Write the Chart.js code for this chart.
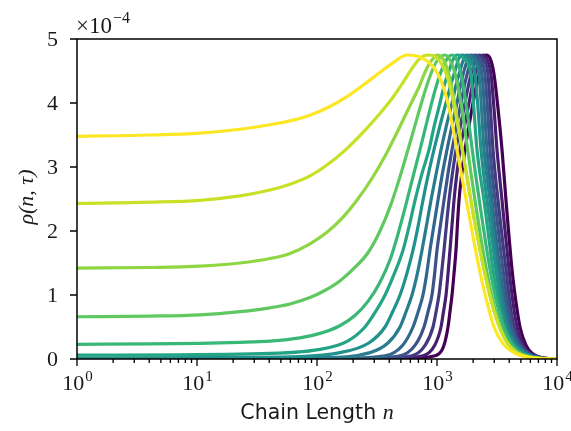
<!DOCTYPE html>
<html>
<head>
<meta charset="utf-8">
<script src="https://cdn.jsdelivr.net/npm/chart.js@4.4.1/dist/chart.umd.min.js"></script>
<style>
  html, body { margin: 0; padding: 0; background: #fff; }
  canvas { display: block; }
</style>
</head>
<body>
<canvas id="chart" width="571" height="431"></canvas>
<script>
// Axis ticks
const chainLengthTicks = [1, 10, 100, 1000, 10000];
const rhoTicks = [0, 1, 2, 3, 4, 5];
const rhoExponent = -4; // rho values below are in units of 1e-4

// Curves, one per time step, [chain length n, rho]; yellow (first) to purple (last)
const curve0 = [[1, 3.48], [4.06, 3.50], [10.6, 3.53], [22.8, 3.59], [40.6, 3.66], [59.6, 3.72], [87.4, 3.81], [123.5, 3.93], [178, 4.10], [251, 4.30], [335, 4.48], [438, 4.64], [562, 4.75], [722, 4.72], [874, 4.62], [1000, 4.48], [1144, 4.22], [1283, 3.85], [1440, 3.35], [1585, 2.92], [1745, 2.50], [1957, 2.00], [2239, 1.43], [2561, 0.95], [2985, 0.50], [3548, 0.24], [4467, 0.09], [5623, 0.03], [7217, 0.008], [10000, 0]];
const curve1 = [[1, 2.43], [4.06, 2.45], [10.6, 2.48], [22.8, 2.55], [40.6, 2.64], [59.6, 2.73], [87.4, 2.86], [121, 3.03], [171, 3.26], [242, 3.54], [329, 3.82], [422, 4.07], [521, 4.32], [619, 4.54], [708, 4.68], [779, 4.74], [858, 4.75], [981, 4.72], [1101, 4.60], [1212, 4.42], [1334, 4.12], [1440, 3.80], [1585, 3.38], [1745, 2.93], [1920, 2.47], [2154, 1.95], [2417, 1.47], [2765, 1.0], [3162, 0.60], [3758, 0.28], [4642, 0.10], [5957, 0.03], [7645, 0.008], [10000, 0]];
const curve2 = [[1, 1.42], [4.06, 1.43], [10.6, 1.45], [22.8, 1.50], [40.6, 1.57], [59.6, 1.65], [87.4, 1.80], [121, 1.98], [162, 2.20], [215, 2.48], [287, 2.82], [376, 3.20], [473, 3.57], [585, 3.93], [708, 4.25], [794, 4.48], [874, 4.63], [944, 4.71], [1000, 4.75], [1101, 4.71], [1212, 4.55], [1334, 4.22], [1468, 3.78], [1616, 3.30], [1778, 2.84], [1957, 2.38], [2196, 1.88], [2464, 1.40], [2818, 0.93], [3224, 0.57], [3758, 0.29], [4467, 0.12], [5623, 0.035], [7217, 0.008], [10000, 0]];
const curve3 = [[1, 0.66], [4.06, 0.67], [10.6, 0.69], [22.8, 0.74], [40.6, 0.80], [59.6, 0.86], [87.4, 0.96], [116, 1.07], [155, 1.22], [207, 1.43], [266, 1.66], [335, 2.0], [414, 2.42], [492, 2.85], [573, 3.27], [656, 3.65], [736, 3.98], [825, 4.28], [908, 4.50], [1000, 4.66], [1080, 4.73], [1166, 4.75], [1259, 4.70], [1386, 4.52], [1525, 4.18], [1647, 3.80], [1778, 3.35], [1920, 2.90], [2113, 2.38], [2326, 1.88], [2610, 1.35], [2929, 0.90], [3350, 0.52], [3905, 0.25], [4642, 0.10], [5732, 0.03], [7499, 0.006], [10000, 0]];
const curve4 = [[1, 0.23], [4.06, 0.235], [10.6, 0.245], [22.8, 0.26], [40.6, 0.28], [72.2, 0.33], [106, 0.40], [155, 0.52], [207, 0.68], [266, 0.90], [335, 1.20], [406, 1.55], [473, 1.95], [552, 2.42], [631, 2.85], [722, 3.27], [810, 3.65], [908, 4.02], [1019, 4.35], [1122, 4.57], [1235, 4.71], [1334, 4.75], [1440, 4.70], [1555, 4.52], [1679, 4.20], [1813, 3.78], [1957, 3.30], [2113, 2.84], [2326, 2.30], [2561, 1.78], [2873, 1.23], [3224, 0.80], [3687, 0.44], [4299, 0.20], [5109, 0.075], [6432, 0.02], [8254, 0.004], [10000, 0]];
const curve5 = [[1, 0.06], [28, 0.08], [106, 0.15], [180, 0.28], [251, 0.5], [310, 0.75], [369, 1.0], [440, 1.33], [521, 1.7], [590, 2.1], [656, 2.48], [750, 2.9], [858, 3.27], [950, 3.65], [1059, 4.0], [1150, 4.28], [1259, 4.5], [1360, 4.68], [1468, 4.75], [1700, 4.68], [1920, 4.45], [2030, 3.90], [2154, 3.27], [2464, 2.48], [2929, 1.40], [3250, 0.88], [3617, 0.50], [4300, 0.22], [5109, 0.09], [7217, 0.01], [10000, 0]];
const curve6 = [[1, 0.015], [49, 0.03], [155, 0.1], [270, 0.25], [369, 0.5], [430, 0.75], [492, 1.0], [560, 1.33], [631, 1.7], [700, 2.1], [764, 2.48], [850, 2.9], [944, 3.27], [1060, 3.65], [1189, 4.0], [1300, 4.28], [1413, 4.5], [1510, 4.68], [1616, 4.75], [1850, 4.68], [2073, 4.45], [2200, 3.90], [2326, 3.27], [2610, 2.48], [3102, 1.40], [3400, 0.88], [3758, 0.50], [4450, 0.22], [5309, 0.09], [7356, 0.01], [10000, 0]];
const curve7 = [[1, 0.004], [106, 0.02], [277, 0.1], [390, 0.25], [492, 0.5], [555, 0.75], [619, 1.0], [685, 1.33], [750, 1.7], [820, 2.1], [891, 2.48], [985, 2.9], [1080, 3.27], [1200, 3.65], [1334, 4.0], [1440, 4.28], [1555, 4.5], [1665, 4.68], [1778, 4.75], [2000, 4.68], [2239, 4.45], [2350, 3.90], [2464, 3.27], [2765, 2.48], [3224, 1.40], [3550, 0.88], [3905, 0.50], [4600, 0.22], [5412, 0.09], [7499, 0.01], [10000, 0]];
const curve8 = [[1, 0.001], [150, 0.01], [369, 0.05], [520, 0.22], [631, 0.5], [700, 0.75], [764, 1.0], [820, 1.33], [874, 1.7], [945, 2.1], [1019, 2.48], [1110, 2.9], [1212, 3.27], [1335, 3.65], [1468, 4.0], [1570, 4.28], [1679, 4.5], [1800, 4.68], [1920, 4.75], [2150, 4.68], [2371, 4.45], [2490, 3.90], [2610, 3.27], [2873, 2.48], [3350, 1.40], [3700, 0.88], [4058, 0.50], [4750, 0.22], [5623, 0.09], [7645, 0.01], [10000, 0]];
const curve9 = [[1, 0], [200, 0.005], [492, 0.05], [660, 0.22], [779, 0.5], [845, 0.75], [908, 1.0], [955, 1.33], [1000, 1.7], [1070, 2.1], [1144, 2.48], [1235, 2.9], [1334, 3.27], [1455, 3.65], [1585, 4.0], [1695, 4.28], [1813, 4.5], [1940, 4.68], [2073, 4.75], [2300, 4.68], [2512, 4.45], [2640, 3.90], [2765, 3.27], [3043, 2.48], [3548, 1.40], [3880, 0.88], [4217, 0.50], [4900, 0.22], [5732, 0.09], [7645, 0.01], [10000, 0]];
const curve10 = [[1, 0], [300, 0.004], [619, 0.05], [800, 0.22], [926, 0.5], [985, 0.75], [1039, 1.0], [1090, 1.33], [1144, 1.7], [1200, 2.1], [1259, 2.48], [1345, 2.9], [1440, 3.27], [1570, 3.65], [1711, 4.0], [1830, 4.28], [1957, 4.5], [2095, 4.68], [2239, 4.75], [2450, 4.68], [2661, 4.45], [2790, 3.90], [2929, 3.27], [3224, 2.48], [3758, 1.40], [4050, 0.88], [4382, 0.50], [5050, 0.22], [5843, 0.09], [7793, 0.01], [10000, 0]];
const curve11 = [[1, 0], [400, 0.004], [764, 0.05], [960, 0.22], [1080, 0.5], [1135, 0.75], [1189, 1.0], [1235, 1.33], [1283, 1.7], [1335, 2.1], [1386, 2.48], [1465, 2.9], [1555, 3.27], [1700, 3.65], [1848, 4.0], [1975, 4.28], [2113, 4.5], [2260, 4.68], [2417, 4.75], [2620, 4.68], [2818, 4.45], [2990, 3.90], [3162, 3.27], [3481, 2.48], [3981, 1.40], [4300, 0.88], [4642, 0.50], [5250, 0.22], [5957, 0.09], [7943, 0.01], [10000, 0]];
const curve12 = [[1, 0], [500, 0.004], [962, 0.05], [1101, 0.14], [1170, 0.28], [1235, 0.5], [1285, 0.75], [1334, 1.0], [1385, 1.33], [1440, 1.7], [1480, 2.1], [1525, 2.48], [1610, 2.9], [1711, 3.27], [1850, 3.65], [1995, 4.0], [2135, 4.28], [2282, 4.5], [2420, 4.68], [2561, 4.75], [2765, 4.70], [2985, 4.45], [3230, 3.90], [3481, 3.27], [3758, 2.48], [4217, 1.40], [4560, 0.88], [4917, 0.50], [5500, 0.22], [6190, 0.09], [8097, 0.01], [10000, 0]];

const curves = [curve0, curve1, curve2, curve3, curve4, curve5, curve6,
                curve7, curve8, curve9, curve10, curve11, curve12];

// viridis, yellow -> purple
const curveColors = ['#fde725', '#c8e026', '#90d643', '#5fc860', '#39b777', '#22a485', '#21918c',
                     '#287c8e', '#31678d', '#3b528b', '#433981', '#471e6f', '#440154'];

const SERIF = '"Liberation Serif", "DejaVu Serif", serif';
const SANS = '"DejaVu Sans", sans-serif';
const TEXT = '#1a1a1a';

// "base^exp" helper
function drawPower(ctx, base, exp, cx, baseline, align, size) {
    const small = Math.round(size * 0.7);
    ctx.font = size + 'px ' + SERIF;
    const wb = ctx.measureText(base).width;
    ctx.font = small + 'px ' + SERIF;
    const we = ctx.measureText(exp).width;
    const x0 = align === 'center' ? cx - (wb + we) / 2 : cx;
    ctx.textAlign = 'left';
    ctx.textBaseline = 'alphabetic';
    ctx.font = size + 'px ' + SERIF;
    ctx.fillText(base, x0, baseline);
    ctx.font = small + 'px ' + SERIF;
    ctx.fillText(exp, x0 + wb + 1, baseline - Math.round(size * 0.42));
}

// frame, ticks and labels in matplotlib style
const axisDecor = {
    id: 'axisDecor',
    afterDraw(chart) {
        const { ctx, chartArea: a, scales: { x, y } } = chart;
        ctx.save();
        ctx.strokeStyle = '#000';
        ctx.fillStyle = TEXT;
        ctx.lineWidth = 1.5;
        ctx.strokeRect(a.left, a.top, a.right - a.left, a.bottom - a.top);

        ctx.lineWidth = 1.3;
        ctx.beginPath();
        rhoTicks.forEach(v => {
            const py = y.getPixelForValue(v);
            ctx.moveTo(a.left - 7, py);
            ctx.lineTo(a.left, py);
        });
        chainLengthTicks.forEach((n, i) => {
            const px = x.getPixelForValue(n);
            ctx.moveTo(px, a.bottom);
            ctx.lineTo(px, a.bottom + 7);
            if (i < chainLengthTicks.length - 1) {
                for (let m = 2; m <= 9; m++) {
                    const mx = x.getPixelForValue(n * m);
                    ctx.moveTo(mx, a.bottom);
                    ctx.lineTo(mx, a.bottom + 4);
                }
            }
        });
        ctx.stroke();

        ctx.font = '22px ' + SERIF;
        ctx.textAlign = 'right';
        ctx.textBaseline = 'middle';
        rhoTicks.forEach(v => ctx.fillText(String(v), a.left - 19, y.getPixelForValue(v) + 1));

        chainLengthTicks.forEach(n => {
            drawPower(ctx, '10', String(Math.round(Math.log10(n))), x.getPixelForValue(n), a.bottom + 31, 'center', 22);
        });

        drawPower(ctx, '\u00d710', '\u2212' + Math.abs(rhoExponent), a.left - 1, a.top - 6, 'left', 23);

        // x title: sans words, italic math n
        const word = 'Chain Length ';
        ctx.font = '20.5px ' + SANS;
        const ww = ctx.measureText(word).width;
        ctx.font = 'italic 22px ' + SERIF;
        const wn = ctx.measureText('n').width;
        const tx = (a.left + a.right) / 2 - (ww + wn) / 2;
        ctx.textAlign = 'left';
        ctx.textBaseline = 'alphabetic';
        ctx.font = '20.5px ' + SANS;
        ctx.fillText(word, tx, 419);
        ctx.font = 'italic 22px ' + SERIF;
        ctx.fillText('n', tx + ww, 419);

        // y title
        ctx.translate(27, (a.top + a.bottom) / 2 - 2);
        ctx.rotate(-Math.PI / 2);
        ctx.textAlign = 'center';
        ctx.textBaseline = 'middle';
        ctx.font = 'italic 22px ' + SERIF;
        ctx.fillText('\u03c1(n, \u03c4)', 0, 0);
        ctx.restore();
    }
};

new Chart(document.getElementById('chart'), {
    type: 'line',
    data: {
        datasets: curves.map((c, i) => ({
            data: c.map(p => ({ x: p[0], y: p[1] })),
            borderColor: curveColors[i],
            borderWidth: 3.2,
            pointRadius: 0,
            fill: false,
            cubicInterpolationMode: 'monotone'
        }))
    },
    options: {
        responsive: false,
        animation: false,
        devicePixelRatio: 1,
        layout: { padding: { left: 77, top: 39, right: 14, bottom: 72 } },
        plugins: { legend: { display: false }, tooltip: { enabled: false } },
        scales: {
            x: { type: 'logarithmic', min: 1, max: 10000, display: false },
            y: { type: 'linear', min: 0, max: 5, display: false }
        }
    },
    plugins: [axisDecor]
});
</script>
</body>
</html>
